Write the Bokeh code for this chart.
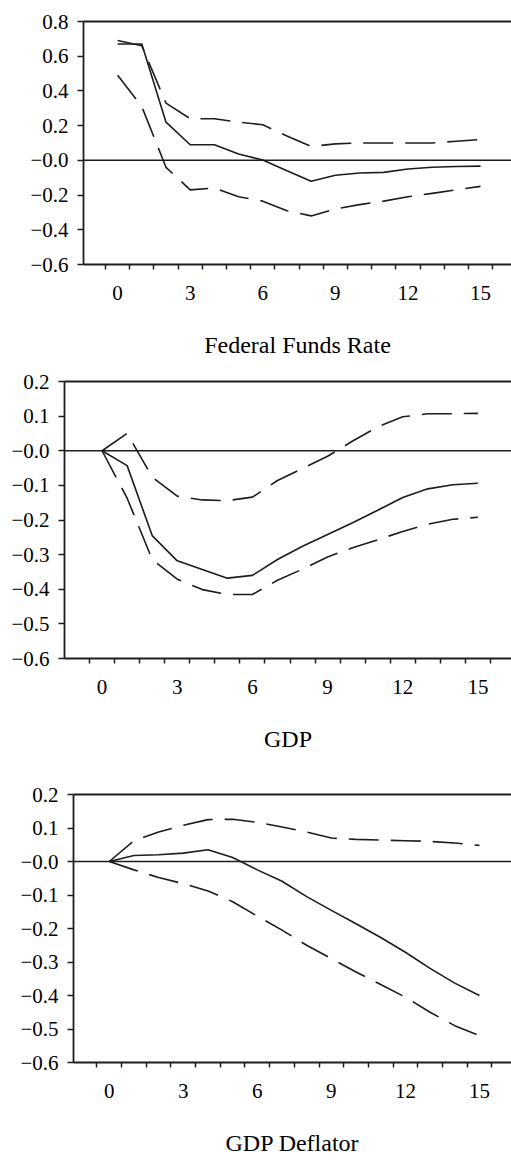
from bokeh.plotting import figure
from bokeh.models import Range1d, FixedTicker, LinearAxis, Span
from bokeh.embed import file_html
from bokeh.resources import INLINE

# ---------------- data ----------------
steps = [0, 1, 2, 3, 4, 5, 6, 7, 8, 9, 10, 11, 12, 13, 14, 15]

ffr_irf = [0.67, 0.67, 0.22, 0.09, 0.09, 0.037, 0.002, -0.06, -0.12, -0.086, -0.073, -0.069, -0.05, -0.04, -0.035, -0.033]
ffr_upper = [0.69, 0.66, 0.33, 0.24, 0.24, 0.22, 0.205, 0.14, 0.08, 0.095, 0.10, 0.10, 0.10, 0.10, 0.11, 0.12]
ffr_lower = [0.49, 0.31, -0.04, -0.17, -0.16, -0.21, -0.235, -0.29, -0.32, -0.28, -0.255, -0.235, -0.21, -0.19, -0.17, -0.15]

gdp_irf = [0.0, -0.043, -0.245, -0.318, -0.343, -0.368, -0.36, -0.314, -0.276, -0.242, -0.208, -0.172, -0.135, -0.11, -0.098, -0.094]
gdp_upper = [0.0, 0.05, -0.076, -0.131, -0.142, -0.144, -0.134, -0.086, -0.051, -0.016, 0.028, 0.069, 0.098, 0.107, 0.107, 0.108]
gdp_lower = [0.0, -0.137, -0.314, -0.371, -0.401, -0.415, -0.415, -0.374, -0.342, -0.307, -0.28, -0.257, -0.233, -0.212, -0.198, -0.192]

defl_irf = [0.0, 0.018, 0.02, 0.025, 0.035, 0.012, -0.025, -0.059, -0.105, -0.146, -0.186, -0.227, -0.271, -0.319, -0.363, -0.40]
defl_upper = [0.0, 0.062, 0.088, 0.108, 0.125, 0.126, 0.117, 0.103, 0.088, 0.07, 0.066, 0.064, 0.062, 0.06, 0.055, 0.048]
defl_lower = [0.0, -0.025, -0.048, -0.066, -0.088, -0.12, -0.163, -0.205, -0.25, -0.29, -0.33, -0.367, -0.405, -0.45, -0.49, -0.52]

titles = ["Federal Funds Rate", "GDP", "GDP Deflator"]

x_ticks = [0, 3, 6, 9, 12, 15]
x_tick_labels = ["0", "3", "6", "9", "12", "15"]
x_minor_ticks = [-0.5, 0.5, 1.5, 2.5, 3.5, 4.5, 5.5, 6.5, 7.5, 8.5, 9.5, 10.5, 11.5, 12.5, 13.5, 14.5, 15.5]

ffr_y_ticks = [-0.6, -0.4, -0.2, 0.0, 0.2, 0.4, 0.6, 0.8]
ffr_y_labels = ["\u22120.6", "\u22120.4", "\u22120.2", "\u22120.0", "0.2", "0.4", "0.6", "0.8"]
gdp_y_ticks = [-0.6, -0.5, -0.4, -0.3, -0.2, -0.1, 0.0, 0.1, 0.2]
gdp_y_labels = ["\u22120.6", "\u22120.5", "\u22120.4", "\u22120.3", "\u22120.2", "\u22120.1", "\u22120.0", "0.1", "0.2"]

INK = "#1c1c1c"
FONT = "Liberation Serif"


def panel(title, irf, upper, lower, y_ticks, y_labels, x_start, x_end,
          frame_w, frame_h, b_left, b_top, b_bottom):
    p = figure(frame_width=frame_w, frame_height=frame_h,
               x_range=Range1d(x_start, x_end),
               y_range=Range1d(y_ticks[0], y_ticks[-1]),
               min_border_left=b_left, min_border_right=0,
               min_border_top=b_top, min_border_bottom=b_bottom,
               output_backend="svg", toolbar_location=None,
               background_fill_color="white", border_fill_color="white")
    p.outline_line_color = None
    p.grid.visible = False

    # zero line
    p.add_layout(Span(location=0, dimension="width", line_color=INK, line_width=1.5))

    p.line(steps, irf, line_color=INK, line_width=1.6)
    p.line(steps, upper, line_color=INK, line_width=1.6, line_dash="30 12")
    p.line(steps, lower, line_color=INK, line_width=1.6, line_dash="30 12")

    xa = p.xaxis[0]
    xa.ticker = FixedTicker(ticks=x_ticks, minor_ticks=x_minor_ticks)
    xa.major_label_overrides = dict(zip(x_ticks, x_tick_labels))
    xa.major_tick_out = 0
    xa.major_tick_in = 0
    xa.minor_tick_out = 5
    xa.minor_tick_in = 0
    xa.minor_tick_line_color = INK
    xa.minor_tick_line_width = 1.5
    xa.major_label_standoff = 16
    xa.axis_line_color = INK
    xa.axis_line_width = 1.8
    xa.major_label_text_font = FONT
    xa.major_label_text_font_size = "21px"
    xa.major_label_text_color = "black"
    xa.axis_label = title
    xa.axis_label_text_font = FONT
    xa.axis_label_text_font_size = "24px"
    xa.axis_label_text_font_style = "normal"
    xa.axis_label_text_color = "black"
    xa.axis_label_standoff = 29

    ya = p.yaxis[0]
    ya.ticker = FixedTicker(ticks=y_ticks)
    ya.major_label_overrides = dict(zip(y_ticks, y_labels))
    ya.major_tick_out = 6
    ya.major_tick_in = 0
    ya.major_tick_line_color = INK
    ya.major_tick_line_width = 1.5
    ya.minor_tick_out = 0
    ya.minor_tick_in = 0
    ya.major_label_standoff = 9
    ya.axis_line_color = INK
    ya.axis_line_width = 1.8
    ya.major_label_text_font = FONT
    ya.major_label_text_font_size = "21px"
    ya.major_label_text_color = "black"

    top = LinearAxis(ticker=FixedTicker(ticks=[]), major_tick_out=0, major_tick_in=0,
                     minor_tick_out=0, minor_tick_in=0, major_label_standoff=0,
                     axis_line_color=INK, axis_line_width=1.8)
    p.add_layout(top, "above")
    return p


p1 = panel(titles[0], ffr_irf, ffr_upper, ffr_lower, ffr_y_ticks, ffr_y_labels,
           -1.41, 16.28, 428, 243, 83, 21, 106)
p2 = panel(titles[1], gdp_irf, gdp_upper, gdp_lower, gdp_y_ticks, gdp_y_labels,
           -1.50, 16.34, 447, 277, 64, 11, 112)
p3 = panel(titles[2], defl_irf, defl_upper, defl_lower, gdp_y_ticks, gdp_y_labels,
           -1.45, 16.30, 438, 268, 73, 24, 92)

with open("out.html", "w") as f:
    f.write(file_html([p1, p2, p3], INLINE))
